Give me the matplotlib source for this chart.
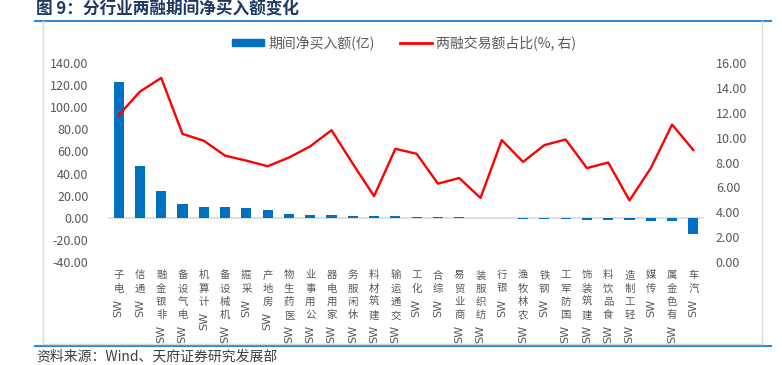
import matplotlib
matplotlib.use("Agg")
import matplotlib.pyplot as plt
import numpy as np
from matplotlib.lines import Line2D
from matplotlib.patches import Patch

plt.rcParams['font.family'] = ['Noto Sans CJK SC', 'DejaVu Sans']

industries = ["电子", "通信", "非银金融", "电气设备", "计算机", "机械设备", "采掘",
              "房地产", "医药生物", "公用事业", "家用电器", "休闲服务", "建筑材料",
              "交通运输", "化工", "综合", "商业贸易", "纺织服装", "银行", "农林牧渔",
              "钢铁", "国防军工", "建筑装饰", "食品饮料", "轻工制造", "传媒",
              "有色金属", "汽车"]
net_buy = [123.0, 46.7, 24.0, 12.2, 9.7, 9.6, 8.5, 6.7, 3.0, 2.2, 2.2, 2.0, 1.3,
           1.2, 0.5, 0.5, 0.3, 0.2, -0.5, -1.0, -1.2, -1.3, -1.8, -1.8, -2.2,
           -2.5, -3.0, -15.0]
margin_share = [11.8, 13.7, 14.8, 10.3, 9.75, 8.55, 8.15, 7.7, 8.4, 9.3, 10.6,
                7.9, 5.3, 9.1, 8.7, 6.3, 6.75, 5.15, 9.8, 8.05, 9.4, 9.85, 7.55,
                8.0, 4.95, 7.55, 11.05, 9.0]
left_ticks = np.arange(-40, 141, 20)
right_ticks = np.arange(0, 17, 2)

W, H = 782, 365
grey = "#595959"


def fx(px):
    return px / W


def fy(py):
    return 1 - py / H


fig = plt.figure(figsize=(W / 100, H / 100), dpi=100)
ax = fig.add_axes([fx(108), fy(262), 596 / W, 199 / H])

x = np.arange(len(industries))
ax.bar(x, net_buy, width=0.47, color="#0070C0", zorder=2)
ax.axhline(0, color="#D9D9D9", lw=1.2, zorder=1)
ax.set_xlim(-0.5, len(industries) - 0.5)
ax.set_ylim(-40, 140)
ax.set_yticks(left_ticks, [f"{v:.2f}" for v in left_ticks])
ax.set_xticks([])

ax2 = ax.twinx()
ax2.plot(x, margin_share, color="#FF0000", lw=1.7)
ax2.set_ylim(0, 16)
ax2.set_yticks(right_ticks, [f"{v:.2f}" for v in right_ticks])

for a in (ax, ax2):
    for s in a.spines.values():
        s.set_visible(False)
ax.tick_params(axis="y", length=0, pad=14, colors=grey, labelsize=9)
ax2.tick_params(axis="y", length=0, pad=8.5, colors=grey, labelsize=9)

# vertical category labels: upright CJK characters, rotated "SW"
step = 9.6
for i, name in enumerate(industries):
    for k, ch in enumerate(reversed(name)):
        ax.annotate(ch, xy=(i, 0), xycoords=("data", "axes fraction"),
                    xytext=(0, -6 - k * step), textcoords="offset points",
                    ha="center", va="top", fontsize=7.5, color=grey)
    ax.annotate("SW", xy=(i, 0), xycoords=("data", "axes fraction"),
                xytext=(0, -6 - len(name) * step - 1), textcoords="offset points",
                ha="center", va="top", rotation=90, fontsize=8, color=grey,
                family="DejaVu Sans")

handles = [Patch(color="#0070C0", label="期间净买入额(亿)"),
           Line2D([], [], color="#FF0000", lw=2, label="两融交易额占比(%, 右)")]
fig.legend(handles=handles, loc="center", bbox_to_anchor=(fx(404), fy(43)),
           ncol=2, frameon=False, fontsize=10, handlelength=2.3, handleheight=0.5,
           columnspacing=1.8, handletextpad=0.3, labelcolor=grey)

# frame around the chart
blue = "#2E8BD0"
fig.add_artist(Line2D([fx(35), fx(771)], [fy(21), fy(21)], color=blue, lw=1.5))
fig.add_artist(Line2D([fx(35), fx(771)], [fy(346), fy(346)], color=blue, lw=1.5))
fig.add_artist(Line2D([fx(43), fx(762)], [fy(343.5), fy(343.5)], color="#D9D9D9", lw=1))
fig.add_artist(Line2D([fx(43), fx(43)], [fy(21), fy(344)], color="#D9D9D9", lw=1))
fig.add_artist(Line2D([fx(762), fx(762)], [fy(21), fy(344)], color="#D9D9D9", lw=1))

fig.text(fx(36), fy(9), "图 9：分行业两融期间净买入额变化", fontsize=12,
         fontweight="bold", color="#1F3864", va="center")
fig.text(fx(36), fy(357), "资料来源：Wind、天府证券研究发展部", fontsize=10,
         color="#404040", va="center")

fig.savefig("out.png", dpi=100)
